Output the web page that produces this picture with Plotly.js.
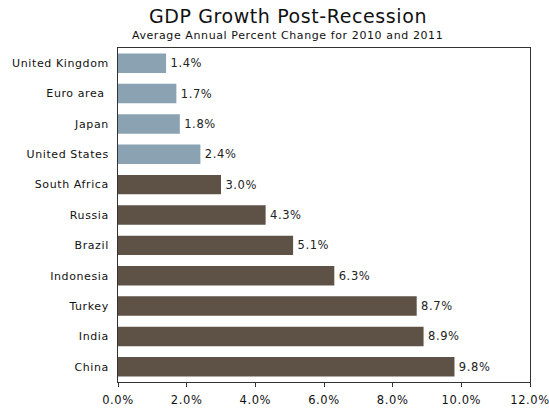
<!DOCTYPE html>
<html>
<head>
<meta charset="utf-8">
<script src="https://cdn.plot.ly/plotly-3.0.1.min.js"></script>
<style>html,body{margin:0;padding:0;background:#fff;}#chart{width:549px;height:410px;}#chart text{letter-spacing:0.6px;}</style>
</head>
<body>
<div id="chart"></div>
<script>
const countries = ["United Kingdom","Euro area\u00a0","Japan","United States","South Africa","Russia","Brazil","Indonesia","Turkey","India","China"];
const growth = [1.4,1.7,1.8,2.4,3.0,4.3,5.1,6.3,8.7,8.9,9.8];
const advanced = [true,true,true,true,false,false,false,false,false,false,false];
const tickVals = [0,2,4,6,8,10,12];
const tickText = ["0.0%","2.0%","4.0%","6.0%","8.0%","10.0%","12.0%"];

const colors = advanced.map(a => a ? "#8aa2b2" : "#5e5246");
const font = "DejaVu Sans, Verdana, sans-serif";

const trace = {
  type: "bar",
  orientation: "h",
  y: countries,
  x: growth,
  marker: {color: colors, line: {width: 0}},
  text: growth.map(v => "\u2009" + v.toFixed(1) + "%"),
  textposition: "outside",
  textfont: {family: font, size: 11.5, color: "#222"},
  cliponaxis: false,
  hoverinfo: "none"
};

const layout = {
  width: 549, height: 410,
  margin: {l: 118, r: 19, t: 48, b: 28},
  paper_bgcolor: "#fff", plot_bgcolor: "#fff",
  bargap: 0.36,
  showlegend: false,
  title: {text: "GDP Growth Post-Recession", font: {family: font, size: 19, color: "#111"}, xref: "container", x: 0.5246, xanchor: "center", y: 0.96, yanchor: "middle"},
  annotations: [{text: "Average Annual Percent Change for 2010 and 2011", xref: "paper", yref: "paper", x: 0.4126, y: 1, yshift: 13, xanchor: "center", yanchor: "middle", showarrow: false, font: {family: font, size: 11, color: "#111"}}],
  xaxis: {
    range: [0, 12], tickvals: tickVals, ticktext: tickText,
    showgrid: false, zeroline: false,
    showline: true, linecolor: "#333", linewidth: 1, mirror: true,
    ticks: "outside", ticklen: 4, tickcolor: "#333", ticklabelstandoff: 3,
    tickfont: {family: font, size: 11.5, color: "#111"}
  },
  yaxis: {
    categoryorder: "array", categoryarray: countries, autorange: "reversed",
    showgrid: false, zeroline: false,
    showline: true, linecolor: "#333", linewidth: 1, mirror: true,
    ticks: "", ticklabelstandoff: 6,
    tickfont: {family: font, size: 11, color: "#111"}
  }
};

Plotly.newPlot("chart", [trace], layout, {displayModeBar: false, staticPlot: true});
</script>
</body>
</html>
